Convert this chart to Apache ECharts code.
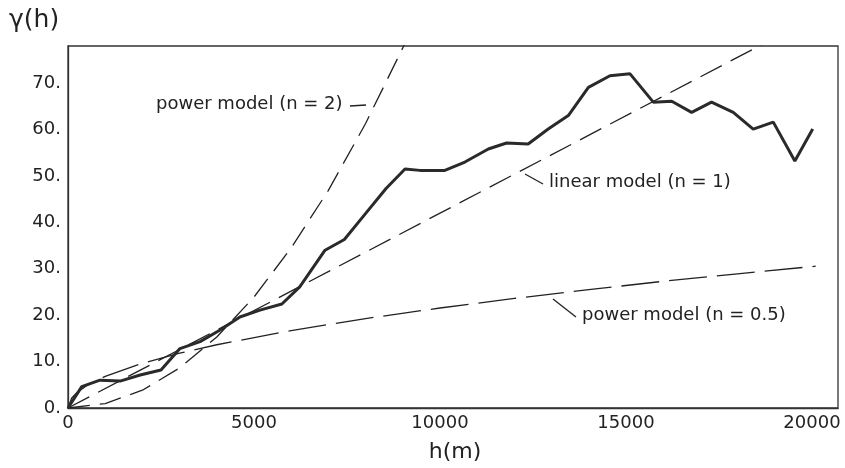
<!DOCTYPE html>
<html>
<head>
<meta charset="utf-8">
<script src="https://cdn.jsdelivr.net/npm/echarts@6/dist/echarts.min.js"></script>
<style>
html,body{margin:0;padding:0;background:#fff;}
#c{width:845px;height:468px;}
</style>
</head>
<body>
<div id="c"></div>
<script>
// Empirical variogram: lag h (m) and gamma(h)
const lagH = [0,370,860,1400,1940,2500,3010,3550,4090,4620,5160,5750,6230,6910,7430,8030,8550,9060,9460,10130,10670,11300,11790,12370,12910,13450,13990,14570,15110,15735,16230,16765,17300,17885,18420,18960,19540,20020];
const gammaH = [0,4.6,6.0,5.8,7.1,8.2,12.8,14.3,16.8,19.6,21.1,22.4,26.1,34.0,36.3,42.2,47.3,51.5,51.2,51.2,53.0,55.8,57.1,56.9,60.1,63.0,69.1,71.6,72.0,65.9,66.1,63.7,65.9,63.7,60.1,61.6,53.2,60.1];

// Model curves
const pow2H = [0,1000,2000,3000,4000,5000,6000,7000,8000,9000,9500];
const pow2G = [0,0.96,3.83,8.62,15.3,23.9,34.5,46.9,61.3,77.6,86.4];
const linH = [0,20700];
const linG = [0,86.9];
const powHalfH = [0,100,250,500,1000,2000,3000,4000,6000,8000,10000,12000,14000,16000,18000,20100];
const powHalfG = [0,2.16,3.41,4.82,6.81,9.64,11.8,13.63,16.69,19.27,21.55,23.6,25.5,27.3,28.9,30.55];

const xTicks = [0,5000,10000,15000,20000];
const yTicks = [0,10,20,30,40,50,60,70];

function pairs(a,b){return a.map((v,i)=>[v,b[i]]);}

const FONT = 'DejaVu Sans, sans-serif';
const chart = echarts.init(document.getElementById('c'));
chart.setOption({
  animation:false,
  backgroundColor:'#fff',
  grid:{left:68,top:46,right:7,bottom:60,show:true,borderColor:'#333',borderWidth:1.3,backgroundColor:'transparent'},
  xAxis:{type:'value',min:0,max:20700,interval:5000,
    name:'h(m)',nameLocation:'middle',nameGap:33,
    nameTextStyle:{fontFamily:FONT,fontSize:22,color:'#222',padding:[0,0,0,4]},
    axisLine:{show:true,lineStyle:{color:'#333',width:1.3}},
    axisTick:{show:false},splitLine:{show:false},
    axisLabel:{margin:6,fontFamily:FONT,fontSize:18,color:'#222',
      formatter:v=>xTicks.indexOf(v)>=0?String(v):''}},
  yAxis:{type:'value',min:0,max:78,interval:10,
    axisLine:{show:true,lineStyle:{color:'#333',width:1.3}},
    axisTick:{show:false},splitLine:{show:false},
    axisLabel:{margin:7,fontFamily:FONT,fontSize:18,color:'#222',
      formatter:v=>yTicks.indexOf(v)>=0?(v+'.'):''}},
  graphic:[
    {type:'text',left:9,top:8,style:{text:'γ(h)',fontFamily:FONT,fontSize:25,fill:'#222'}},
    {type:'text',left:156,top:95,style:{text:'power model (n = 2)',fontFamily:FONT,fontSize:18,fill:'#222'}},
    {type:'line',shape:{x1:350,y1:106,x2:366,y2:105},style:{stroke:'#222',lineWidth:1.3}},
    {type:'line',shape:{x1:525,y1:174,x2:543,y2:184},style:{stroke:'#222',lineWidth:1.3}},
    {type:'text',left:549,top:173,style:{text:'linear model (n = 1)',fontFamily:FONT,fontSize:18,fill:'#222'}},
    {type:'line',shape:{x1:553,y1:299,x2:576,y2:317},style:{stroke:'#222',lineWidth:1.3}},
    {type:'text',left:582,top:306,style:{text:'power model (n = 0.5)',fontFamily:FONT,fontSize:18,fill:'#222'}}
  ],
  series:[
    {type:'line',data:pairs(pow2H,pow2G),showSymbol:false,smooth:false,clip:true,
      lineStyle:{color:'#222',width:1.3,type:[22,10]}},
    {type:'line',data:pairs(linH,linG),showSymbol:false,clip:true,
      lineStyle:{color:'#222',width:1.3,type:[24,10]}},
    {type:'line',data:pairs(powHalfH,powHalfG),showSymbol:false,clip:true,
      lineStyle:{color:'#222',width:1.3,type:[38,10]}},
    {type:'line',data:pairs(lagH,gammaH),showSymbol:false,clip:true,
      lineStyle:{color:'#2a2a2a',width:3}}
  ]
});
</script>
</body>
</html>
